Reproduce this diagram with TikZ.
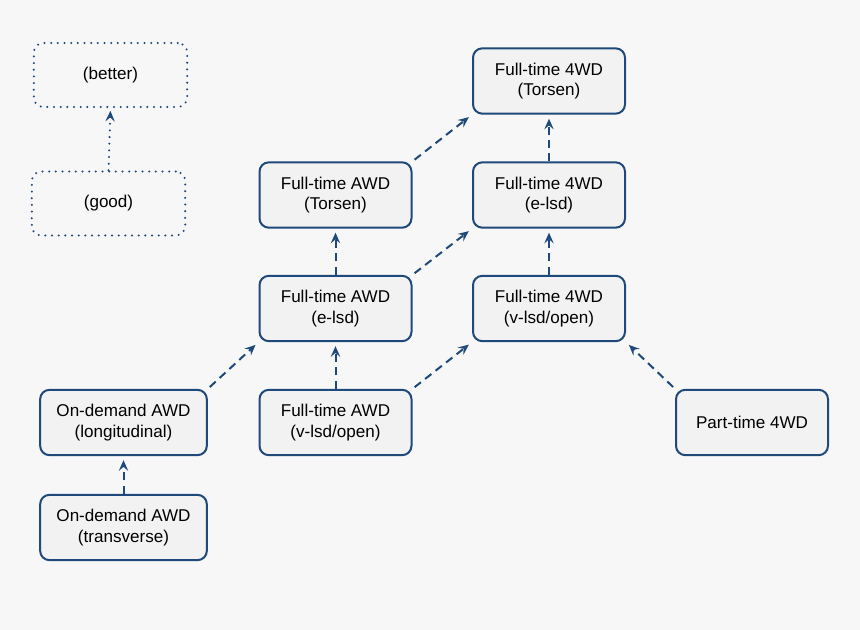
\documentclass[tikz,border=0pt]{standalone}
\usepackage{fontspec}
\setmainfont{Liberation Sans}
\usetikzlibrary{arrows.meta}
\definecolor{edge}{RGB}{30,73,122}
\definecolor{boxfill}{RGB}{242,242,242}
\definecolor{bg}{RGB}{247,247,247}
\begin{document}
\begin{tikzpicture}[x=0.75pt,y=-0.75pt,
  box/.style={draw=edge, fill=boxfill, line width=1.5pt, rounded corners=7pt,
    minimum width=114pt, minimum height=49pt, align=center, inner sep=0pt,
    font=\fontsize{12.8}{15.5}\selectfont},
  legendbox/.style={draw=edge, line width=1.7pt, rounded corners=7pt,
    dash pattern=on 0pt off 5pt, line cap=round,
    minimum width=115pt, minimum height=48pt, align=center, inner sep=0pt,
    font=\fontsize{12.8}{15.5}\selectfont},
  link/.style={draw=edge, line width=1.5pt, dash pattern=on 6pt off 4pt,
    -{Stealth[length=8pt,width=7pt,inset=3pt]}},
  legendlink/.style={draw=edge, line width=1.7pt, dash pattern=on 0pt off 5pt,
    line cap=round, -{Stealth[length=8pt,width=7pt,inset=3pt,line cap=butt]}}
]
\fill[bg] (0,0) rectangle (860,630);
\useasboundingbox (0,0) rectangle (860,630);

\node[legendbox] (better) at (110.5,75) {(better)};
\node[legendbox] (good) at (108.5,203.5) {(good)};

\node[box] (t4) at (549,81) {Full-time 4WD\\(Torsen)};
\node[box] (ta) at (335.5,195) {Full-time AWD\\(Torsen)};
\node[box] (e4) at (549,195) {Full-time 4WD\\(e-lsd)};
\node[box] (ea) at (335.5,308.5) {Full-time AWD\\(e-lsd)};
\node[box] (v4) at (549,308.5) {Full-time 4WD\\(v-lsd/open)};
\node[box, minimum width=125pt] (long) at (123.5,422.5) {On-demand AWD\\(longitudinal)};
\node[box] (va) at (335.5,422.5) {Full-time AWD\\(v-lsd/open)};
\node[box] (pt) at (752,422.5) {Part-time 4WD};
\node[box, minimum width=125pt] (trans) at (123.5,527.5) {On-demand AWD\\(transverse)};

\draw[legendlink, shorten >=2pt] (good.north) -- (better.south);

\draw[link, shorten >=3pt] (trans.north) -- (long.south);
\draw[link, shorten >=3pt] (va.north) -- (ea.south);
\draw[link, shorten >=3pt] (ea.north) -- (ta.south);
\draw[link, shorten >=3pt] (v4.north) -- (e4.south);
\draw[link, shorten >=3pt] (e4.north) -- (t4.south);

\draw[link, shorten <=2pt, shorten >=3pt] (long.north east) -- (ea.south west);
\draw[link, shorten <=2pt, shorten >=3pt] (va.north east) -- (v4.south west);
\draw[link, shorten <=2pt, shorten >=3pt] (pt.north west) -- (v4.south east);
\draw[link, shorten <=2pt, shorten >=3pt] (ea.north east) -- (e4.south west);
\draw[link, shorten <=2pt, shorten >=3pt] (ta.north east) -- (t4.south west);
\end{tikzpicture}
\end{document}
